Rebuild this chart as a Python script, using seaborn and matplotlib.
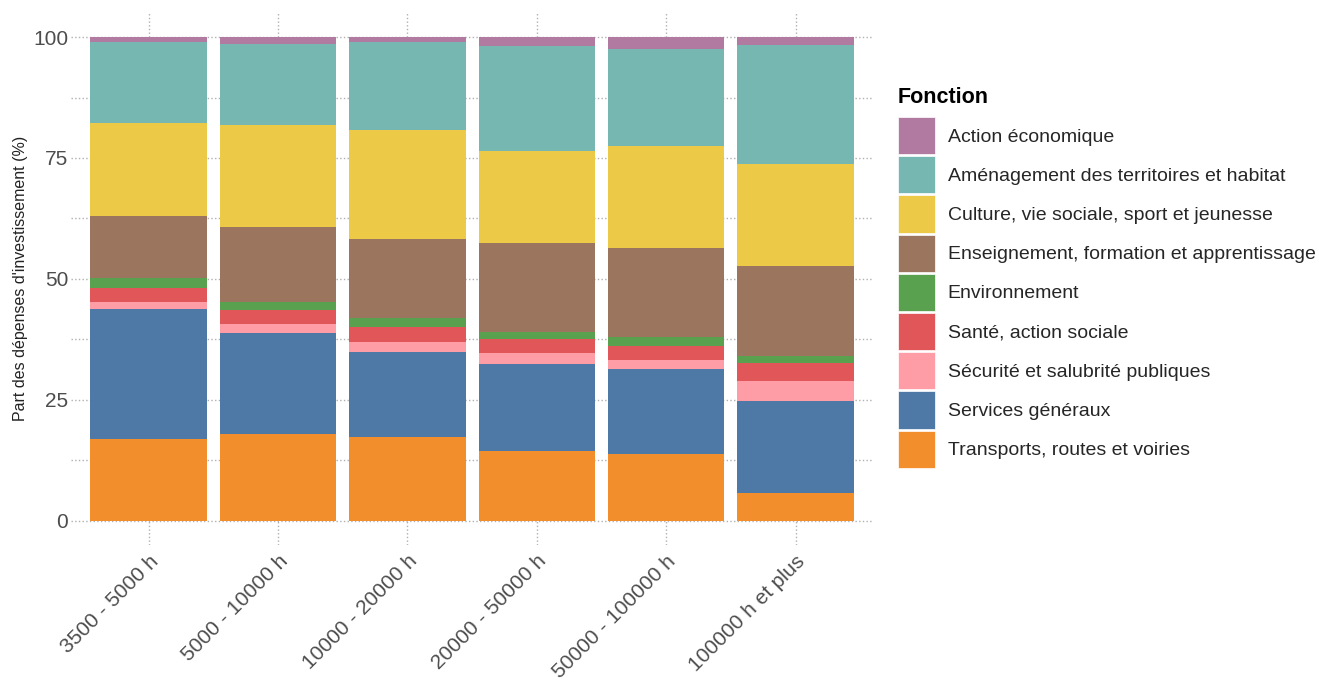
import numpy as np
import pandas as pd
import matplotlib.pyplot as plt
import seaborn as sns
from matplotlib.patches import Patch

# tranches de population
tranches = ["3500 - 5000 h", "5000 - 10000 h", "10000 - 20000 h",
            "20000 - 50000 h", "50000 - 100000 h", "100000 h et plus"]

# fonctions, du bas vers le haut de la pile
fonctions = ["Transports, routes et voiries", "Services généraux",
             "Sécurité et salubrité publiques", "Santé, action sociale",
             "Environnement", "Enseignement, formation et apprentissage",
             "Culture, vie sociale, sport et jeunesse",
             "Aménagement des territoires et habitat", "Action économique"]

# parts (%) par fonction, une valeur par tranche
transports   = [16.8, 17.9, 17.2, 14.4, 13.8, 5.7]
services     = [27.0, 20.9, 17.6, 17.9, 17.6, 19.1]
securite     = [1.3, 1.8, 2.2, 2.3, 1.9, 4.1]
sante        = [3.0, 3.0, 3.1, 3.0, 2.7, 3.6]
environnement = [2.1, 1.7, 1.8, 1.3, 2.0, 1.5]
enseignement = [12.7, 15.5, 16.3, 18.6, 18.3, 18.6]
culture      = [19.3, 21.1, 22.6, 18.9, 21.2, 21.2]
amenagement  = [16.7, 16.7, 18.1, 21.8, 20.1, 24.6]
action_eco   = [1.1, 1.4, 1.1, 1.8, 2.4, 1.6]

couleurs = ["#F28E2B", "#4E79A7", "#FF9DA7", "#E15759", "#59A14F",
            "#9C755F", "#EDC948", "#76B7B2", "#B07AA1"]

series = [transports, services, securite, sante, environnement,
          enseignement, culture, amenagement, action_eco]

df = pd.DataFrame(np.array(series).T, columns=fonctions)
df.insert(0, "tranche", tranches)
# normalise to 100 % then stack
vals = df[fonctions]
vals = vals.div(vals.sum(axis=1), axis=0) * 100
cum = vals.cumsum(axis=1)
cum["tranche"] = tranches

sns.set_theme(style="white")
plt.rcParams["font.family"] = ["Liberation Sans", "DejaVu Sans"]

fig = plt.figure(figsize=(13.19, 6.8), dpi=100)
ax = fig.add_axes([0.0538, 0.199, 0.6082, 0.782])

# draw from the top of the stack downwards so each layer covers the next
for f, c in zip(fonctions[::-1], couleurs[::-1]):
    sns.barplot(data=cum, x="tranche", y=f, order=tranches, color=c,
                width=0.9, linewidth=0, saturation=1, errorbar=None,
                ax=ax, zorder=2)

ax.set_xlim(-0.6, len(tranches) - 0.4)
ax.set_ylim(-5, 105)
ax.set_yticks([0, 25, 50, 75, 100])
ax.set_yticks([12.5, 37.5, 62.5, 87.5], minor=True)
ax.grid(True, which="both", axis="y", linestyle=":", color="#B0B0B0", linewidth=1, zorder=0)
ax.grid(True, which="major", axis="x", linestyle=":", color="#B0B0B0", linewidth=1, zorder=0)
ax.set_axisbelow(True)
for s in ax.spines.values():
    s.set_visible(False)

ax.set_xlabel("")
ax.set_ylabel("Part des dépenses d'investissement (%)", fontsize=11.5, color="#222222", labelpad=4)
ax.tick_params(axis="both", which="both", length=0, labelsize=15, colors="#4D4D4D", pad=2)
ax.tick_params(axis="x", pad=5)
for lab in ax.get_xticklabels():
    lab.set_rotation(45)
    lab.set_ha("right")
    lab.set_rotation_mode("anchor")

# legend: title drawn separately to get the ggplot spacing
fig.text(898 / 1319, 1 - 103 / 680, "Fonction", fontsize=15.5,
         fontweight="bold", color="black", va="baseline", ha="left")
handles = [Patch(facecolor=c, edgecolor="white", linewidth=0.5, label=f)
           for f, c in zip(fonctions[::-1], couleurs[::-1])]
leg = fig.legend(handles=handles, loc="upper left",
                 bbox_to_anchor=(898 / 1319, 1 - 117 / 680), frameon=False,
                 fontsize=14, handlelength=1.9, handleheight=2.57,
                 labelspacing=0.1, handletextpad=0.65, borderaxespad=0,
                 borderpad=0)

fig.savefig("out.png", dpi=100)
